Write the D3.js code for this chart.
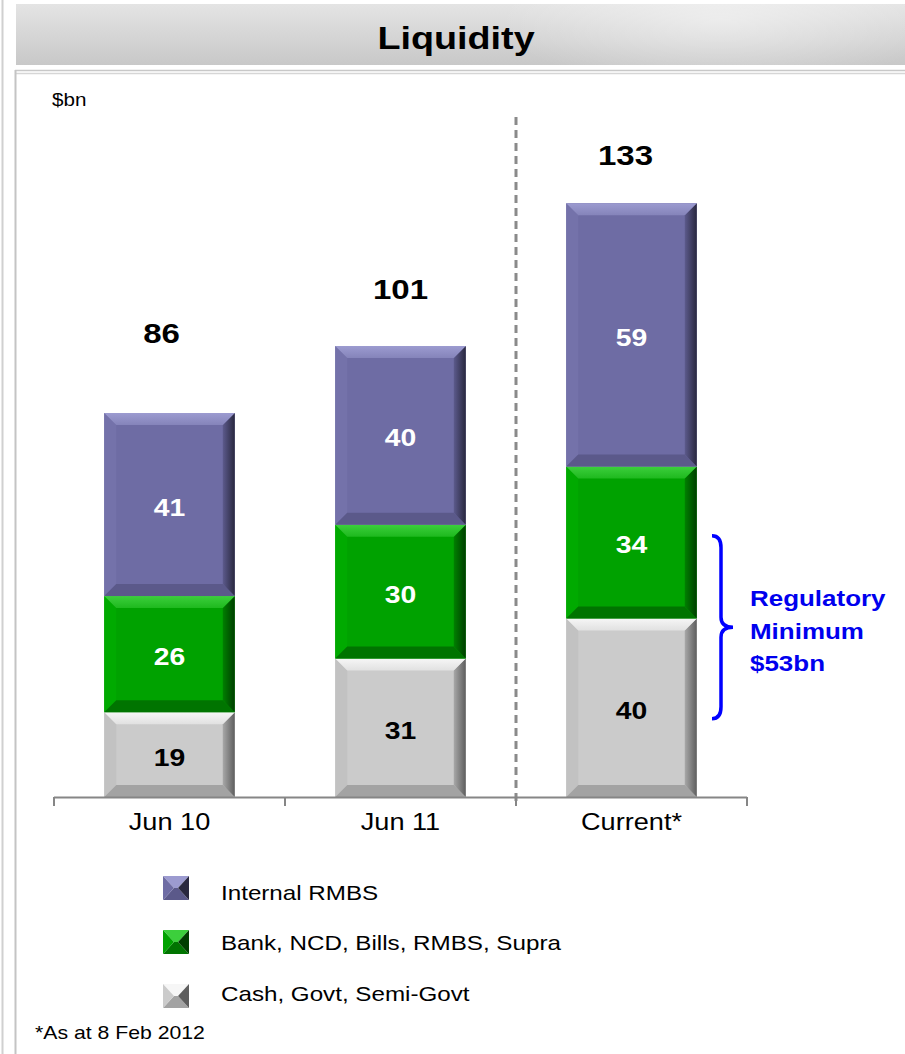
<!DOCTYPE html>
<html>
<head>
<meta charset="utf-8">
<script src="https://cdn.jsdelivr.net/npm/d3@7"></script>
<style>
  html, body { margin: 0; padding: 0; background: #ffffff; }
  svg { display: block; font-family: "Liberation Sans", Arial, sans-serif; }
</style>
</head>
<body>
<svg id="chart" width="905" height="1054"></svg>
<script>
// Liquidity composition, $bn
const categories = ["Jun 10", "Jun 11", "Current*"];
const seriesNames = ["Cash, Govt, Semi-Govt", "Bank, NCD, Bills, RMBS, Supra", "Internal RMBS"];
const cashGovt = [19, 31, 40];
const bankNcd = [26, 30, 34];
const internalRmbs = [41, 40, 59];
const totals = [86, 101, 133];
const legendOrder = ["Internal RMBS", "Bank, NCD, Bills, RMBS, Supra", "Cash, Govt, Semi-Govt"];
const footnote = "*As at 8 Feb 2012";
const regulatoryNote = ["Regulatory", "Minimum", "$53bn"];

// layout constants (pixels)
const totalLabelLift = [80, 57, 48];
const totalLabelShift = [-8, 0, -6];
const braceValueSpan = [17.5, 58.5];
const stretch = 1.18; // wide lettering

const svg = d3.select("#chart");
const W = 905, H = 1054;

// text helper: wide glyphs, anchored at (x, y)
function label(parent, x, y, str, size, opts = {}) {
  return parent.append("text")
    .attr("transform", `translate(${x},${y}) scale(${stretch},1)`)
    .attr("text-anchor", opts.anchor || "start")
    .attr("font-size", size)
    .attr("font-weight", opts.bold ? "bold" : "normal")
    .attr("fill", opts.fill || "#000")
    .text(str);
}

// palette per series: face, top bevel, bottom bevel, left bevel, right edge, label colour
const palette = [
  { face: "#cbcbcb", top: "#f6f6f6", bottom: "#a3a3a3", left: "#c2c2c2", rightA: "#a8a8a8", rightB: "#5e5e5e", text: "#000000" },
  { face: "#00a200", top: "#3ccf3c", bottom: "#007400", left: "#00aa00", rightA: "#008000", rightB: "#003e00", text: "#ffffff" },
  { face: "#6e6ca4", top: "#9c9bd0", bottom: "#5b598a", left: "#7472aa", rightA: "#5c5a8c", rightB: "#29283f", text: "#ffffff" }
];

const defs = svg.append("defs");

// header gradient
const hg = defs.append("linearGradient").attr("id", "hdr").attr("x1", 0).attr("y1", 0).attr("x2", 0).attr("y2", 1);
hg.append("stop").attr("offset", "0%").attr("stop-color", "#e4e4e4");
hg.append("stop").attr("offset", "100%").attr("stop-color", "#c8c8c8");
const hl = defs.append("radialGradient").attr("id", "hdrGlow").attr("cx", 0.5).attr("cy", 0.5).attr("r", 0.5);
hl.append("stop").attr("offset", "0%").attr("stop-color", "#ffffff").attr("stop-opacity", 0.45);
hl.append("stop").attr("offset", "100%").attr("stop-color", "#ffffff").attr("stop-opacity", 0);
defs.append("clipPath").attr("id", "hdrClip").append("rect").attr("x", 16).attr("y", 4).attr("width", W - 16).attr("height", 61);

palette.forEach((p, i) => {
  const rg = defs.append("linearGradient").attr("id", "right" + i).attr("x1", 0).attr("y1", 0).attr("x2", 1).attr("y2", 0);
  rg.append("stop").attr("offset", "0%").attr("stop-color", p.rightA);
  rg.append("stop").attr("offset", "100%").attr("stop-color", p.rightB);
  const tg = defs.append("linearGradient").attr("id", "top" + i).attr("x1", 0).attr("y1", 0).attr("x2", 0).attr("y2", 1);
  tg.append("stop").attr("offset", "0%").attr("stop-color", p.top);
  tg.append("stop").attr("offset", "100%").attr("stop-color", d3.interpolateRgb(p.top, p.face)(0.5));
});

// frame and header
svg.append("line").attr("x1", 2.5).attr("x2", 2.5).attr("y1", 0).attr("y2", H).attr("stroke", "#d0d0d0").attr("stroke-width", 2);
svg.append("rect").attr("x", 16).attr("y", 4).attr("width", W - 16).attr("height", 61).attr("fill", "url(#hdr)");
svg.append("ellipse").attr("clip-path", "url(#hdrClip)").attr("cx", 720).attr("cy", 20).attr("rx", 220).attr("ry", 70).attr("fill", "url(#hdrGlow)");
label(svg, 456, 49, "Liquidity", 32, { anchor: "middle", bold: true });

svg.append("line").attr("x1", 15).attr("x2", W).attr("y1", 70.5).attr("y2", 70.5).attr("stroke", "#c8c8c8").attr("stroke-width", 1.5);
svg.append("line").attr("x1", 15).attr("x2", W).attr("y1", 73.5).attr("y2", 73.5).attr("stroke", "#d6d6d6").attr("stroke-width", 1.5);
svg.append("line").attr("x1", 15.5).attr("x2", 15.5).attr("y1", 70).attr("y2", H).attr("stroke", "#c4c4c4").attr("stroke-width", 2);

label(svg, 52, 106, "$bn", 17.5);

// scales
const x = d3.scaleBand().domain(categories).range([54, 747]).padding(0);
const y = d3.scaleLinear().domain([0, 133]).range([797, 797 - 133 * 4.465]);
const barRatio = 0.565;
const bw = x.bandwidth() * barRatio;
const bx = c => x(c) + (x.bandwidth() - bw) / 2;

// stacked data
const rows = categories.map((c, i) => ({
  cat: c,
  [seriesNames[0]]: cashGovt[i],
  [seriesNames[1]]: bankNcd[i],
  [seriesNames[2]]: internalRmbs[i]
}));
const stacked = d3.stack().keys(seriesNames)(rows);

// divider before the current column
svg.append("line").attr("x1", x("Current*")).attr("x2", x("Current*"))
  .attr("y1", 117).attr("y2", 805)
  .attr("stroke", "#8a8a8a").attr("stroke-width", 3).attr("stroke-dasharray", "8,5");

// bevelled segments
function bevelPolys(x0, x1, y0, y1, b) {
  return {
    top: [[x0, y0], [x1, y0], [x1 - b, y0 + b], [x0 + b, y0 + b]],
    bottom: [[x0, y1], [x1, y1], [x1 - b, y1 - b], [x0 + b, y1 - b]],
    left: [[x0, y0], [x0 + b, y0 + b], [x0 + b, y1 - b], [x0, y1]],
    right: [[x1, y0], [x1 - b, y0 + b], [x1 - b, y1 - b], [x1, y1]]
  };
}
const pts = p => p.map(d => d.join(",")).join(" ");

stacked.forEach((layer, si) => {
  const p = palette[si];
  const g = svg.append("g").attr("class", "series");
  layer.forEach(d => {
    const cat = d.data.cat;
    const x0 = bx(cat), x1 = x0 + bw;
    const yTop = y(d[1]), yBot = y(d[0]);
    const b = Math.min(12, (yBot - yTop) / 2);
    const pl = bevelPolys(x0, x1, yTop, yBot, b);
    g.append("rect").attr("x", x0).attr("y", yTop).attr("width", bw).attr("height", yBot - yTop).attr("fill", p.face);
    g.append("polygon").attr("points", pts(pl.left)).attr("fill", p.left);
    g.append("polygon").attr("points", pts(pl.bottom)).attr("fill", p.bottom);
    g.append("polygon").attr("points", pts(pl.right)).attr("fill", `url(#right${si})`);
    g.append("polygon").attr("points", pts(pl.top)).attr("fill", `url(#top${si})`);
    label(g, x0 + bw / 2, (yTop + yBot) / 2 + 11, d[1] - d[0], 24, { anchor: "middle", bold: true, fill: p.text });
  });
});

// totals above bars
categories.forEach((c, i) => {
  label(svg, x(c) + x.bandwidth() / 2 + totalLabelShift[i], y(totals[i]) - totalLabelLift[i] + 10,
    totals[i], 28, { anchor: "middle", bold: true });
});

// category axis
const axis = d3.axisBottom(x).tickSize(0).tickPadding(17);
const ag = svg.append("g").attr("transform", "translate(0,797)").call(axis);
ag.select(".domain").remove();
ag.selectAll("text").attr("font-size", 23).attr("fill", "#000")
  .attr("font-family", "Liberation Sans, Arial, sans-serif")
  .attr("transform", `scale(${stretch},1)`);
svg.append("line").attr("x1", 54).attr("x2", 747).attr("y1", 797.5).attr("y2", 797.5).attr("stroke", "#868686").attr("stroke-width", 2);
[54, ...categories.slice(1).map(c => x(c)), 747].forEach(t => {
  svg.append("line").attr("x1", t).attr("x2", t).attr("y1", 797).attr("y2", 806).attr("stroke", "#868686").attr("stroke-width", 2);
});

// regulatory minimum brace
const bTop = y(braceValueSpan[1]), bBot = y(braceValueSpan[0]);
const bMid = (bTop + bBot) / 2;
const bx0 = 712, bx1 = 721, bxTip = 733;
const bracePath = d3.path();
bracePath.moveTo(bx0, bTop);
bracePath.quadraticCurveTo(bx1, bTop, bx1, bTop + 12);
bracePath.lineTo(bx1, bMid - 10);
bracePath.quadraticCurveTo(bx1, bMid, bxTip, bMid);
bracePath.quadraticCurveTo(bx1, bMid, bx1, bMid + 10);
bracePath.lineTo(bx1, bBot - 12);
bracePath.quadraticCurveTo(bx1, bBot, bx0, bBot);
svg.append("path").attr("d", bracePath.toString()).attr("fill", "none").attr("stroke", "#0000ff").attr("stroke-width", 3.5);

const rg = svg.append("g");
regulatoryNote.forEach((t, i) => label(rg, 750, 606 + i * 32.5, t, 22, { bold: true, fill: "#0000ee" }));

// legend
const legendRows = legendOrder.map(n => ({ name: n, si: seriesNames.indexOf(n) }));
const lg = svg.append("g").attr("class", "legend");
legendRows.forEach((r, i) => {
  const p = palette[r.si];
  const cy = 888 + i * 54;
  const s = 26, h = 24;
  const x0 = 163, y0 = cy - h / 2, x1 = x0 + s, y1 = y0 + h;
  const mx = x0 + s / 2, my = y0 + h / 2;
  lg.append("polygon").attr("points", pts([[x0, y0], [x1, y0], [mx + 2, my], [mx - 2, my]])).attr("fill", p.top);
  lg.append("polygon").attr("points", pts([[x0, y1], [x1, y1], [mx + 2, my], [mx - 2, my]])).attr("fill", p.bottom);
  lg.append("polygon").attr("points", pts([[x0, y0], [mx - 2, my], [x0, y1]])).attr("fill", p.face);
  lg.append("polygon").attr("points", pts([[x1, y0], [mx + 2, my], [x1, y1]])).attr("fill", p.rightB);
  label(lg, 221, 892 + i * 50.5 + 7.5, r.name, 20.5);
});

label(svg, 35, 1039, footnote, 18);
</script>
</body>
</html>
